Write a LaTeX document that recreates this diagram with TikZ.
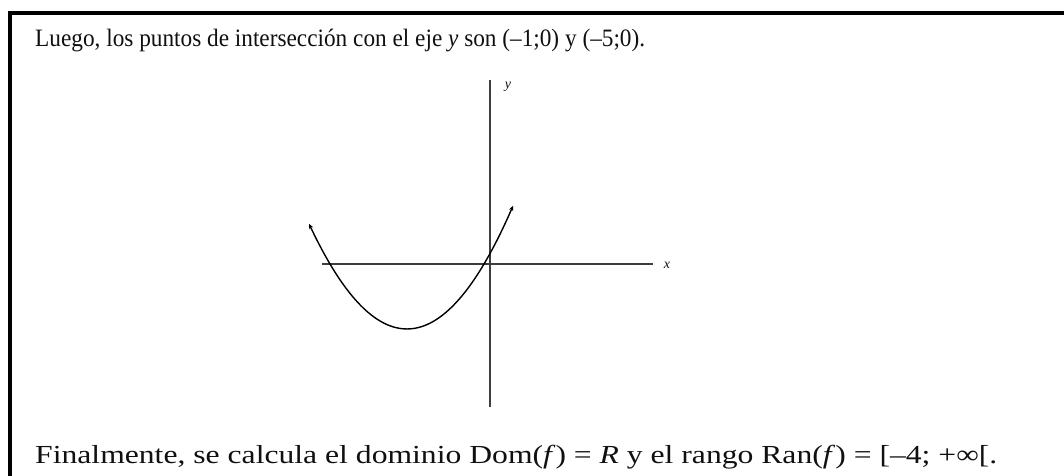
\documentclass[tikz,border=0pt]{standalone}
\usepackage{fontspec}
\setmainfont{Liberation Serif}
\usepackage{tikz}
\usetikzlibrary{arrows.meta}
\usepackage{xcolor}
\definecolor{axisgray}{HTML}{3d3d3d}
\definecolor{inkblack}{HTML}{101010}

\begin{document}
\begin{tikzpicture}[x=1pt, y=-1pt]
  \useasboundingbox (0,0) rectangle (1064,475);
  % marco
  \draw[line width=4pt] (10,490) -- (10,13) -- (1075,13);
  \node[anchor=base west, inner sep=0pt, inkblack, font=\fontsize{25}{30}\selectfont] (luego) at (35,46) {\resizebox{610pt}{\height}{Luego, los puntos de intersección con el eje \textit{y} son (–1;0) y (–5;0).}};
  \node[anchor=base west, inner sep=0pt, inkblack, font=\fontsize{26}{31}\selectfont] (final) at (35,463) {\resizebox{962pt}{\height}{Finalmente, se calcula el dominio Dom(\textit{f}) = \textit{R} y el rango Ran(\textit{f}) = [–4; +∞[.}};
  % ejes
  \coordinate (xizq) at (322,264);
  \coordinate (xder) at (653,264);
  \coordinate (yabajo) at (490,407);
  \coordinate (yarriba) at (490,80);
  \draw[axisgray, line width=1.6pt] (xizq) -- (xder);
  \draw[axisgray, line width=1.6pt] (yabajo) -- (yarriba);
  \node[font=\fontsize{14}{16}\selectfont\itshape, inkblack] (xlab) at (667,265) {x};
  \node[font=\fontsize{14}{16}\selectfont\itshape, inkblack] (ylab) at (508,87) {y};
  % parabola
  \draw[line width=1.4pt, {Stealth[length=5pt,width=4.5pt]}-{Stealth[length=5pt,width=4.5pt]}] plot[domain=309:513, samples=80] (\x,{264-0.01096*(\x-330)*(\x-484)});
\end{tikzpicture}
\end{document}
